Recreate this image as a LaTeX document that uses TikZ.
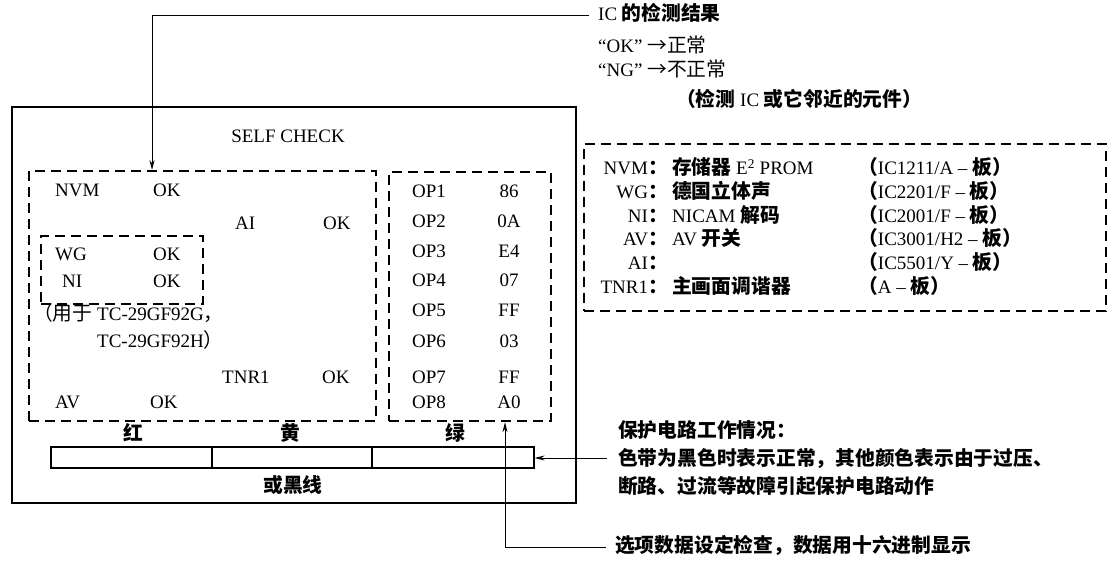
\documentclass[tikz,border=0pt]{standalone}
\usepackage{fontspec}
\setmainfont{Liberation Serif}
\newfontfamily\cjkf{Noto Sans CJK SC}[Scale=1.04]
\usetikzlibrary{arrows.meta}
\newcommand\zh[1]{{\cjkf #1}}
\newcommand\zhb[1]{{\cjkf\bfseries #1}}
\begin{document}
\begin{tikzpicture}[x=1pt,y=-1pt,
  txt/.style={inner sep=0pt, anchor=west, text height=13.5pt, text depth=3.5pt, font=\fontsize{19}{22}\selectfont},
  ctxt/.style={txt, anchor=center},
  etxt/.style={txt, anchor=east},
  outerbox/.style={draw, line width=1.8pt, inner sep=0pt, anchor=north west},
  dbox/.style={draw, line width=2.2pt, dash pattern=on 10pt off 6pt, inner sep=0pt, anchor=north west},
  barbox/.style={draw, line width=1.6pt, inner sep=0pt, anchor=north west},
  lead/.style={draw, line width=1pt},
  arr/.style={lead, -{Stealth[length=10pt,width=5pt]}},
]
\useasboundingbox (0,0) rectangle (1114,577);
\fill[white] (0,0) rectangle (1114,577);

% boxes
\node[outerbox, minimum width=564pt, minimum height=396pt] (outer) at (11,106) {};
\node[dbox, minimum width=347pt, minimum height=250pt] (mainbox) at (28,170) {};
\node[dbox, minimum width=162pt, minimum height=68pt] (innerbox) at (40,235) {};
\node[dbox, minimum width=162pt, minimum height=249pt] (opbox) at (388,171) {};
\node[dbox, minimum width=522pt, minimum height=167pt] (rightbox) at (583,143) {};
\node[barbox, minimum width=483pt, minimum height=21pt] (bar) at (50,446) {};
\coordinate (d1t) at (212,446); \coordinate (d1b) at (212,467);
\coordinate (d2t) at (372,446); \coordinate (d2b) at (372,467);
\draw[line width=1.6pt] (d1t) -- (d1b) (d2t) -- (d2b);

% title
\node[ctxt] (title) at (288,138) {SELF CHECK};

% left panel
\node[txt] (nvm) at (55,192) {NVM};
\node[txt] (nvmok) at (153,192) {OK};
\node[txt] (ai) at (235,225) {AI};
\node[txt] (aiok) at (323,225) {OK};
\node[txt] (wg) at (55,256) {WG};
\node[txt] (wgok) at (153,256) {OK};
\node[txt] (ni) at (62,283) {NI};
\node[txt] (niok) at (153,283) {OK};
\node[txt] (use1) at (33,316) {\zh{（用于} TC-29GF92G\zh{，}};
\node[txt] (use2) at (97,343) {TC-29GF92H\zh{）}};
\node[txt] (tnr) at (222,378) {TNR1};
\node[txt] (tnrok) at (322,378) {OK};
\node[txt] (av) at (55,403) {AV};
\node[txt] (avok) at (150,403) {OK};

% option data column
\foreach \n/\y/\v in {1/193/86, 2/223/0A, 3/253/E4, 4/282/07, 5/312/FF, 6/343/03, 7/378/FF, 8/403/A0}{
  \node[txt] (op\n) at (412,\y) {OP\n};
  \node[ctxt] (val\n) at (509,\y) {\v};
}

% colour bar labels
\node[ctxt] (red) at (133,435) {\zhb{红}};
\node[ctxt] (yel) at (290,435) {\zhb{黄}};
\node[ctxt] (grn) at (455,435) {\zhb{绿}};
\node[ctxt] (blk) at (293,487) {\zhb{或黑线}};

% top annotation
\node[txt] (ictxt) at (598,16) {IC \zhb{的检测结果}};
\node[txt] (okline) at (598,48) {“OK” \zh{→正常}};
\node[txt] (ngline) at (598,72) {“NG” \zh{→不正常}};
\node[txt] (paren) at (676,102) {\zhb{（检测} IC \zhb{或它邻近的元件）}};
\coordinate (ictop) at (152,16);
\draw[arr] ([xshift=-9pt]ictxt.west) -- (ictop) -- (ictop |- mainbox.north);

% right legend
\foreach \n/\y/\lab/\desc/\brd in {
  a/170/NVM/{\zhb{存储器} E\textsuperscript{2} PROM}/{IC1211/A – \zhb{板）}},
  b/194/WG/{\zhb{德国立体声}}/{IC2201/F – \zhb{板）}},
  c/218/NI/{NICAM \zhb{解码}}/{IC2001/F – \zhb{板）}},
  d/241/AV/{AV \zhb{开关}}/{IC3001/H2 – \zhb{板）}},
  e/265/AI/{}/{IC5501/Y – \zhb{板）}},
  f/289/TNR1/{\zhb{主画面调谐器}}/{A – \zhb{板）}}}{
  \node[etxt] (lab\n) at (668,\y) {\lab\zhb{：}};
  \node[txt] (desc\n) at (672,\y) {\desc};
  \node[txt] (brd\n) at (858,\y) {\zhb{（}\brd};
}

% protection annotation
\node[txt] (prot1) at (618,432) {\zhb{保护电路工作情况：}};
\node[txt] (prot2) at (618,460) {\zhb{色带为黑色时表示正常，其他颜色表示由于过压、}};
\node[txt] (prot3) at (618,488) {\zhb{断路、过流等故障引起保护电路动作}};
\coordinate (protstart) at (607,458);
\draw[arr] (protstart) -- (bar.east |- protstart);

% option annotation
\node[txt] (opt) at (615,547) {\zhb{选项数据设定检查，数据用十六进制显示}};
\coordinate (optcorner) at (505,547);
\draw[arr] ([xshift=-9pt]opt.west) -- (optcorner) -- (optcorner |- opbox.south);
\end{tikzpicture}
\end{document}
